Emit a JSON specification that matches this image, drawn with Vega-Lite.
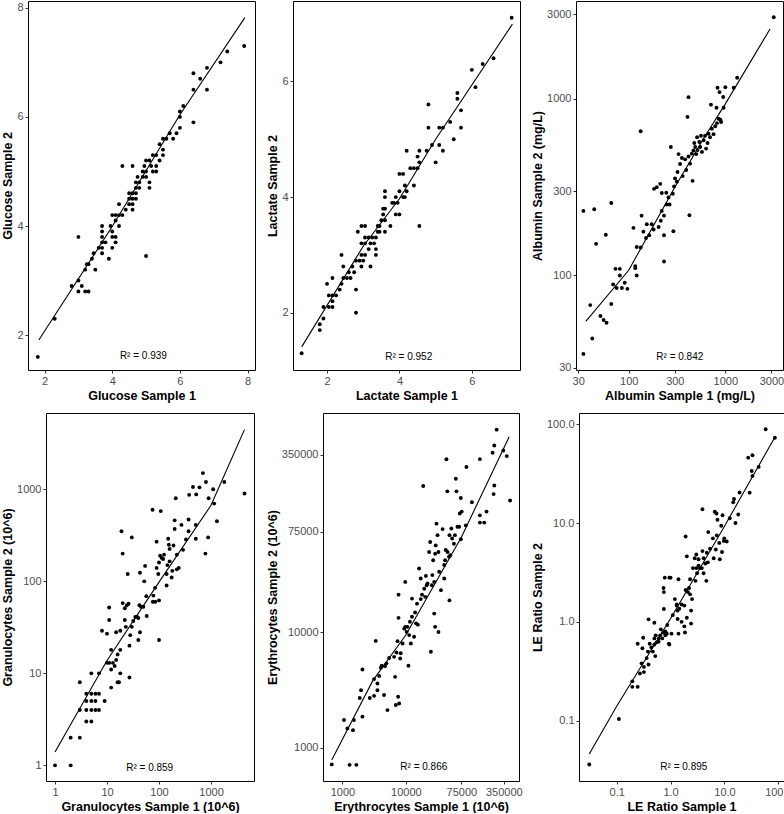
{
  "$schema": "https://vega.github.io/schema/vega-lite/v6.json",
  "padding": {"left": 0, "top": 0, "right": 0, "bottom": 0},
  "background": "white",
  "config": {
    "view": {"stroke": "black", "strokeWidth": 1},
    "axis": {"domain": false, "grid": false, "ticks": true, "tickSize": 3, "tickColor": "#333333", "tickWidth": 1,
      "labelFont": "Liberation Sans", "labelFontSize": 11, "labelColor": "#4d4d4d", "labelPadding": 2,
      "titleFont": "Liberation Sans", "titleFontSize": 12.5, "titleFontWeight": "bold", "titleColor": "black", "titlePadding": 3},
    "axisY": {"titlePadding": 2},
    "text": {"font": "Liberation Sans"},
    "circle": {"size": 15, "color": "black", "opacity": 1},
    "line": {"color": "black", "strokeWidth": 1.1}
  },
  "datasets": {
    "glucose": [[1.8,1.6],[2.3,2.3],[2.8,2.9],[3.0,3.0],[3.0,2.8],[3.1,2.9],[3.0,3.8],[3.2,2.8],[3.3,2.8],[3.2,3.2],[3.25,3.3],[3.3,3.3],[3.4,3.4],[3.45,3.5],[3.5,3.2],[3.6,3.6],[3.7,3.7],[3.7,3.6],[3.7,3.5],[3.7,3.8],[3.7,3.9],[3.7,4.0],[3.8,3.7],[3.9,3.4],[3.95,4.0],[4.0,3.9],[4.0,3.8],[4.0,3.6],[4.1,3.7],[4.1,3.8],[4.0,4.2],[4.1,4.2],[4.1,4.1],[4.2,4.0],[4.2,4.2],[4.2,4.4],[4.3,4.2],[4.3,5.1],[4.4,4.3],[4.5,4.4],[4.5,4.5],[4.5,4.6],[4.6,4.5],[4.6,4.6],[4.6,4.4],[4.6,4.3],[4.6,5.1],[4.7,4.8],[4.7,4.7],[4.7,4.5],[4.7,4.6],[4.75,4.9],[4.8,4.8],[4.8,4.7],[4.9,4.9],[4.9,5.0],[4.95,5.1],[5.0,5.0],[5.0,5.2],[5.0,4.9],[5.0,3.45],[5.1,4.8],[5.1,4.7],[5.1,5.2],[5.15,5.1],[5.2,5.0],[5.2,5.3],[5.3,5.1],[5.3,5.0],[5.3,5.3],[5.4,5.2],[5.4,5.5],[5.5,5.3],[5.5,5.4],[5.5,5.6],[5.6,5.6],[5.7,5.7],[5.8,5.6],[5.9,5.7],[6.0,5.8],[6.0,6.0],[6.0,6.1],[6.1,6.2],[6.4,5.9],[6.4,6.5],[6.4,6.8],[6.6,6.7],[6.8,6.5],[6.8,6.9],[7.2,7.0],[7.4,7.2],[7.9,7.3]],
    "glucoseFit": [[1.83,1.91],[4.0,3.99],[6.0,6.04],[7.92,7.82]],
    "lactate": [[1.3,1.3],[1.8,1.8],[1.8,1.7],[1.9,1.9],[1.9,2.1],[2.0,2.5],[2.05,2.1],[2.05,2.3],[2.15,2.3],[2.15,2.1],[2.15,2.6],[2.15,2.2],[2.25,2.3],[2.35,2.4],[2.4,3.0],[2.4,2.5],[2.45,2.6],[2.45,2.8],[2.55,2.6],[2.6,2.7],[2.65,2.6],[2.7,2.8],[2.75,2.7],[2.8,2.4],[2.8,2.0],[2.8,2.9],[2.85,3.4],[2.9,2.9],[2.95,3.0],[2.95,2.8],[2.95,3.2],[2.95,3.5],[3.0,2.9],[3.05,3.3],[3.05,3.5],[3.05,3.2],[3.05,3.0],[3.15,3.1],[3.15,3.3],[3.2,2.8],[3.2,3.2],[3.25,3.3],[3.3,3.2],[3.35,3.3],[3.35,3.1],[3.35,3.0],[3.4,3.4],[3.4,3.5],[3.45,3.5],[3.45,3.4],[3.5,3.6],[3.55,3.7],[3.55,3.8],[3.6,3.4],[3.6,4.0],[3.6,4.1],[3.6,3.8],[3.6,3.6],[3.75,3.5],[3.8,3.9],[3.85,3.9],[3.9,4.0],[3.9,3.7],[3.95,3.9],[4.0,4.1],[4.0,3.7],[4.0,4.4],[4.1,4.4],[4.1,4.0],[4.15,4.0],[4.15,4.2],[4.2,4.1],[4.2,4.8],[4.3,4.5],[4.4,4.5],[4.4,4.2],[4.5,4.5],[4.5,4.7],[4.55,3.5],[4.55,4.8],[4.55,4.6],[4.75,4.8],[4.8,5.6],[4.8,5.2],[4.9,4.9],[5.0,4.6],[5.1,4.9],[5.1,5.2],[5.2,4.8],[5.2,5.2],[5.4,5.3],[5.5,5.0],[5.6,5.7],[5.6,5.8],[5.7,5.5],[5.7,5.2],[6.0,6.2],[6.1,5.9],[6.3,6.3],[6.6,6.4],[7.1,7.1]],
    "lactateFit": [[1.3,1.41],[3.0,3.15],[4.0,3.97],[5.0,5.0],[7.12,6.99]],
    "albumin": [[34,36],[42,44],[40,68],[51,59],[55,56],[59,54],[66,69],[34,232],[44,237],[46,151],[58,170],[66,257],[69,89],[73,109],[75,85],[81,109],[81,100],[85,85],[91,91],[97,84],[112,186],[117,113],[117,110],[121,145],[121,100],[133,144],[133,654],[136,218],[142,177],[151,163],[154,195],[163,169],[173,195],[181,182],[183,309],[195,316],[212,330],[204,188],[215,204],[220,232],[220,293],[232,169],[232,120],[232,218],[245,294],[247,252],[258,276],[265,252],[273,533],[286,290],[290,178],[295,319],[302,354],[315,339],[320,385],[328,486],[340,427],[355,462],[362,365],[384,454],[394,395],[406,789],[416,1020],[416,471],[425,219],[432,429],[450,489],[458,343],[467,510],[477,562],[488,533],[500,486],[510,605],[516,512],[537,569],[550,533],[560,617],[573,500],[596,582],[617,617],[632,522],[655,562],[670,634],[695,605],[710,925],[725,677],[755,630],[786,698],[810,889],[820,728],[830,1153],[850,770],[870,1090],[890,760],[905,738],[950,1022],[960,889],[1000,1160],[1220,1153],[1325,1314],[3170,2890]],
    "albuminFit": [[36,55],[100,107],[300,316],[600,600],[1000,935],[2900,2480]],
    "gran": [[1,1],[2,1],[2,2],[3,2],[3,4],[3,8],[4,3],[5,3],[4,4],[5,4],[6,4],[7,4],[4,5],[5,5],[6,5],[4,6],[5,6],[6,6],[7,6],[5,10],[7,10],[9,5],[12,7],[10,13],[11,13],[12,11],[13,13],[14,12],[15,14],[16,16],[18,18],[16,8],[17,8],[18,10],[27,9],[12,18],[8,29],[10,27],[11,38],[11,52],[15,28],[18,29],[20,58],[22,38],[22,51],[24,55],[26,57],[23,32],[25,120],[20,200],[19,350],[30,300],[27,20],[28,26],[30,32],[32,37],[35,41],[38,41],[40,40],[42,55],[43,28],[40,23],[45,53],[50,53],[52,100],[54,147],[58,42],[57,69],[43,124],[75,600],[76,60],[78,70],[84,85],[85,60],[90,140],[90,270],[97,120],[100,62],[105,190],[100,160],[100,23],[108,580],[112,180],[120,175],[125,195],[140,120],[140,90],[145,150],[150,290],[155,250],[160,225],[160,165],[175,110],[180,130],[190,245],[200,370],[200,460],[210,800],[220,135],[220,195],[240,140],[270,410],[290,220],[330,285],[370,470],[370,350],[380,870],[450,1060],[520,880],[510,410],[510,290],[600,1050],[700,1500],[780,200],[800,1200],[880,300],[900,800],[1150,700],[1100,1000],[1300,450],[1800,1200],[4400,900]],
    "granFit": [[1,1.4],[10,13.8],[100,98],[1000,670],[4400,4450]],
    "ery": [[680,716],[1060,1740],[1200,1470],[1300,710],[1660,710],[1470,1420],[1520,1740],[2070,1860],[1880,2700],[1970,3150],[2070,4770],[2700,2700],[3160,2820],[3160,3940],[3570,3610],[3570,3150],[3360,8450],[3800,4200],[4040,4950],[4170,5150],[4540,2870],[4700,5100],[4950,5400],[5130,2120],[5450,6000],[6540,6150],[6780,4120],[6950,2350],[7130,6710],[7400,8410],[7560,2770],[7850,2420],[8150,5950],[8300,6600],[8900,8030],[9460,10800],[9800,11200],[10300,10130],[10600,11200],[11000,5150],[11300,9500],[11600,12400],[12000,8030],[12500,13700],[13500,9180],[14000,14900],[7680,13400],[7680,21300],[9800,27500],[12500,19700],[14500,12000],[15500,11700],[15000,17800],[16200,35900],[17200,29400],[17200,19500],[18000,21300],[18800,187000],[19500,24000],[20200,20400],[20700,31000],[21300,25700],[22000,26600],[23300,50000],[24200,61000],[24800,6800],[25700,25700],[26200,31500],[27000,42400],[28000,27500],[28000,14600],[29000,11200],[29000,48300],[29600,57000],[30400,88000],[31600,70000],[32700,10100],[33500,33700],[32700,50000],[35800,23300],[38000,79000],[40300,38500],[40300,29400],[41600,42400],[42600,52000],[43600,319000],[45100,168000],[45500,50000],[48000,45500],[48700,70000],[48700,19000],[50300,46800],[52200,80000],[53700,65500],[57300,59000],[59400,70000],[61400,216000],[62800,168000],[65100,82700],[69200,82700],[73600,147000],[73600,64500],[70900,108000],[76000,112000],[88200,85000],[90300,273000],[110000,135000],[147000,320000],[147000,104000],[147000,90000],[172000,90000],[187000,112000],[233000,363000],[242000,159000],[248000,189000],[248000,420000],[270000,576000],[344000,380000],[390000,340000],[440000,140000]],
    "eryFit": [[680,782],[3000,3800],[10000,9500],[75000,67000],[426000,500000]],
    "le": [[0.031,0.036],[0.11,0.104],[0.195,0.25],[0.195,0.22],[0.245,0.22],[0.245,0.6],[0.27,0.3],[0.29,0.38],[0.3,0.54],[0.31,0.69],[0.32,0.35],[0.32,0.31],[0.36,0.43],[0.38,0.5],[0.39,0.37],[0.39,1.06],[0.41,0.6],[0.44,0.55],[0.47,0.5],[0.5,0.98],[0.5,0.68],[0.5,0.59],[0.52,0.45],[0.53,0.73],[0.55,0.62],[0.6,0.68],[0.6,0.63],[0.64,0.73],[0.66,0.84],[0.7,0.68],[0.73,0.78],[0.75,1.35],[0.8,0.73],[0.8,0.8],[0.87,0.93],[0.93,0.6],[0.95,0.59],[0.85,0.76],[0.74,2.2],[0.75,2.0],[0.78,2.8],[0.95,2.8],[1.04,0.76],[1.1,1.17],[1.3,1.5],[1.3,1.46],[1.4,0.76],[1.35,1.07],[1.35,1.3],[1.45,1.36],[1.6,1.5],[1.6,1.0],[1.8,0.9],[1.8,1.46],[1.85,0.78],[2.0,1.1],[1.9,2.1],[1.4,2.7],[1.0,2.8],[1.2,1.7],[2.1,2.0],[2.2,2.2],[2.3,2.7],[2.3,1.9],[2.5,1.7],[2.4,1.3],[2.4,0.96],[2.0,4.6],[1.9,7.3],[2.6,3.5],[2.8,4.4],[2.9,2.6],[3.0,4.8],[3.0,3.5],[3.1,3.1],[3.3,3.7],[3.3,4.3],[3.5,3.5],[3.8,3.5],[3.9,13.8],[3.9,5.2],[4.1,4.4],[4.1,3.1],[4.4,3.9],[4.6,2.6],[4.7,5.0],[4.9,4.0],[5.0,8.1],[5.4,5.5],[6.1,7.0],[6.3,4.4],[6.6,13.0],[6.9,5.4],[7.2,7.5],[7.4,10.8],[7.1,12.5],[8.0,6.3],[8.2,4.3],[8.7,9.4],[9.0,5.1],[9.2,12.0],[9.7,6.6],[9.9,7.0],[11.0,6.5],[12.5,11.2],[14.5,16.2],[15,17.5],[16,10.0],[18,12.2],[19,20.4],[27.5,45.9],[33,48.5],[29.3,20.3],[32,33.6],[33,30],[43,37],[58,89],[86,73]],
    "leFit": [[0.031,0.046],[0.1,0.14],[1,1.08],[10,9.3],[86,74]]
  },
  "concat": [
    {
      "spacing": 0,
      "hconcat": [
        {"width": 1, "height": 1, "data": {"values": []}, "mark": "point", "view": {"stroke": null}},
        {
          "spacing": 10,
          "hconcat": [
            {
              "width": 227, "height": 369,
              "layer": [
                {"data": {"name": "glucose"}, "mark": "circle",
                 "encoding": {
                   "x": {"field": "0", "type": "quantitative", "title": "Glucose Sample 1", "scale": {"domain": [1.51, 8.22], "nice": false, "zero": false}, "axis": {"values": [2, 4, 6, 8], "format": "d"}},
                   "y": {"field": "1", "type": "quantitative", "title": "Glucose Sample 2", "scale": {"domain": [1.36, 8.125], "nice": false, "zero": false}, "axis": {"values": [2, 4, 6, 8], "format": "d"}}}},
                {"data": {"name": "glucoseFit"}, "mark": "line",
                 "encoding": {"x": {"field": "0", "type": "quantitative", "title": "Glucose Sample 1"}, "y": {"field": "1", "type": "quantitative", "title": "Glucose Sample 2"}}},
                {"data": {"values": [{"t": "R² = 0.939"}]}, "mark": {"type": "text", "fontSize": 10, "baseline": "middle", "align": "center", "color": "black"},
                 "encoding": {"x": {"datum": 4.92, "type": "quantitative", "title": "Glucose Sample 1"}, "y": {"datum": 1.614, "type": "quantitative", "title": "Glucose Sample 2"}, "text": {"field": "t"}}}
              ]
            },
            {
              "width": 227, "height": 369,
              "layer": [
                {"data": {"name": "lactate"}, "mark": "circle",
                 "encoding": {
                   "x": {"field": "0", "type": "quantitative", "title": "Lactate Sample 1", "scale": {"domain": [1.06, 7.33], "nice": false, "zero": false}, "axis": {"values": [2, 4, 6], "format": "d"}},
                   "y": {"field": "1", "type": "quantitative", "title": "Lactate Sample 2", "scale": {"domain": [1.01, 7.39], "nice": false, "zero": false}, "axis": {"values": [2, 4, 6], "format": "d"}}}},
                {"data": {"name": "lactateFit"}, "mark": "line",
                 "encoding": {"x": {"field": "0", "type": "quantitative", "title": "Lactate Sample 1"}, "y": {"field": "1", "type": "quantitative", "title": "Lactate Sample 2"}}},
                {"data": {"values": [{"t": "R² = 0.952"}]}, "mark": {"type": "text", "fontSize": 10, "baseline": "middle", "align": "center", "color": "black"},
                 "encoding": {"x": {"datum": 4.256, "type": "quantitative", "title": "Lactate Sample 1"}, "y": {"datum": 1.238, "type": "quantitative", "title": "Lactate Sample 2"}, "text": {"field": "t"}}}
              ]
            },
            {
              "width": 207, "height": 369,
              "layer": [
                {"data": {"name": "albumin"}, "mark": "circle",
                 "encoding": {
                   "x": {"field": "0", "type": "quantitative", "title": "Albumin Sample 1 (mg/L)", "scale": {"type": "log", "domain": [28.5, 3950], "nice": false}, "axis": {"values": [30, 100, 300, 1000, 3000], "format": "d"}},
                   "y": {"field": "1", "type": "quantitative", "title": "Albumin Sample 2 (mg/L)", "scale": {"type": "log", "domain": [29.2, 3570], "nice": false}, "axis": {"values": [30, 100, 300, 1000, 3000], "format": "d"}}}},
                {"data": {"name": "albuminFit"}, "mark": "line",
                 "encoding": {"x": {"field": "0", "type": "quantitative", "title": "Albumin Sample 1 (mg/L)"}, "y": {"field": "1", "type": "quantitative", "title": "Albumin Sample 2 (mg/L)"}}},
                {"data": {"values": [{"t": "R² = 0.842"}]}, "mark": {"type": "text", "fontSize": 10, "baseline": "middle", "align": "center", "color": "black"},
                 "encoding": {"x": {"datum": 338, "type": "quantitative", "title": "Albumin Sample 1 (mg/L)"}, "y": {"datum": 34.4, "type": "quantitative", "title": "Albumin Sample 2 (mg/L)"}, "text": {"field": "t"}}}
              ]
            }
          ]
        }
      ]
    },
    {
      "spacing": 0,
      "hconcat": [
        {"width": 1, "height": 1, "data": {"values": []}, "mark": "point", "view": {"stroke": null}},
        {
          "spacing": 7,
          "hconcat": [
            {
              "spacing": 10,
              "hconcat": [
                {
                  "width": 208, "height": 368,
                  "layer": [
                    {"data": {"name": "gran"}, "mark": "circle",
                     "encoding": {
                       "x": {"field": "0", "type": "quantitative", "title": "Granulocytes Sample 1 (10^6)", "scale": {"type": "log", "domain": [0.671, 6710], "nice": false}, "axis": {"values": [1, 10, 100, 1000], "format": "d"}},
                       "y": {"field": "1", "type": "quantitative", "title": "Granulocytes Sample 2 (10^6)", "scale": {"type": "log", "domain": [0.676, 6750], "nice": false}, "axis": {"values": [1, 10, 100, 1000], "format": "d"}}}},
                    {"data": {"name": "granFit"}, "mark": "line",
                     "encoding": {"x": {"field": "0", "type": "quantitative", "title": "Granulocytes Sample 1 (10^6)"}, "y": {"field": "1", "type": "quantitative", "title": "Granulocytes Sample 2 (10^6)"}}},
                    {"data": {"values": [{"t": "R² = 0.859"}]}, "mark": {"type": "text", "fontSize": 10, "baseline": "middle", "align": "center", "color": "black"},
                     "encoding": {"x": {"datum": 66.2, "type": "quantitative", "title": "Granulocytes Sample 1 (10^6)"}, "y": {"datum": 0.94, "type": "quantitative", "title": "Granulocytes Sample 2 (10^6)"}, "text": {"field": "t"}}}
                  ]
                },
                {
                  "width": 196, "height": 368,
                  "layer": [
                    {"data": {"name": "ery"}, "mark": "circle",
                     "encoding": {
                       "x": {"field": "0", "type": "quantitative", "title": "Erythrocytes Sample 1 (10^6)", "scale": {"type": "log", "domain": [495, 608000], "nice": false}, "axis": {"values": [1000, 10000, 75000, 350000], "format": "d"}},
                       "y": {"field": "1", "type": "quantitative", "title": "Erythrocytes Sample 2 (10^6)", "scale": {"type": "log", "domain": [514, 804000], "nice": false}, "axis": {"values": [1000, 10000, 75000, 350000], "format": "d"}}}},
                    {"data": {"name": "eryFit"}, "mark": "line",
                     "encoding": {"x": {"field": "0", "type": "quantitative", "title": "Erythrocytes Sample 1 (10^6)"}, "y": {"field": "1", "type": "quantitative", "title": "Erythrocytes Sample 2 (10^6)"}}},
                    {"data": {"values": [{"t": "R² = 0.866"}]}, "mark": {"type": "text", "fontSize": 10, "baseline": "middle", "align": "center", "color": "black"},
                     "encoding": {"x": {"datum": 19200, "type": "quantitative", "title": "Erythrocytes Sample 1 (10^6)"}, "y": {"datum": 684, "type": "quantitative", "title": "Erythrocytes Sample 2 (10^6)"}, "text": {"field": "t"}}}
                  ]
                }
              ]
            },
            {
              "width": 205, "height": 368,
              "layer": [
                {"data": {"name": "le"}, "mark": "circle",
                 "encoding": {
                   "x": {"field": "0", "type": "quantitative", "title": "LE Ratio Sample 1", "scale": {"type": "log", "domain": [0.02, 127], "nice": false}, "axis": {"values": [0.1, 1, 10, 100], "format": ".1f"}},
                   "y": {"field": "1", "type": "quantitative", "title": "LE Ratio Sample 2", "scale": {"type": "log", "domain": [0.0245, 130], "nice": false}, "axis": {"values": [0.1, 1, 10, 100], "format": ".1f"}}}},
                {"data": {"name": "leFit"}, "mark": "line",
                 "encoding": {"x": {"field": "0", "type": "quantitative", "title": "LE Ratio Sample 1"}, "y": {"field": "1", "type": "quantitative", "title": "LE Ratio Sample 2"}}},
                {"data": {"values": [{"t": "R² = 0.895"}]}, "mark": {"type": "text", "fontSize": 10, "baseline": "middle", "align": "center", "color": "black"},
                 "encoding": {"x": {"datum": 1.76, "type": "quantitative", "title": "LE Ratio Sample 1"}, "y": {"datum": 0.0342, "type": "quantitative", "title": "LE Ratio Sample 2"}, "text": {"field": "t"}}}
              ]
            }
          ]
        }
      ]
    }
  ],
  "columns": 1,
  "spacing": 10
}
